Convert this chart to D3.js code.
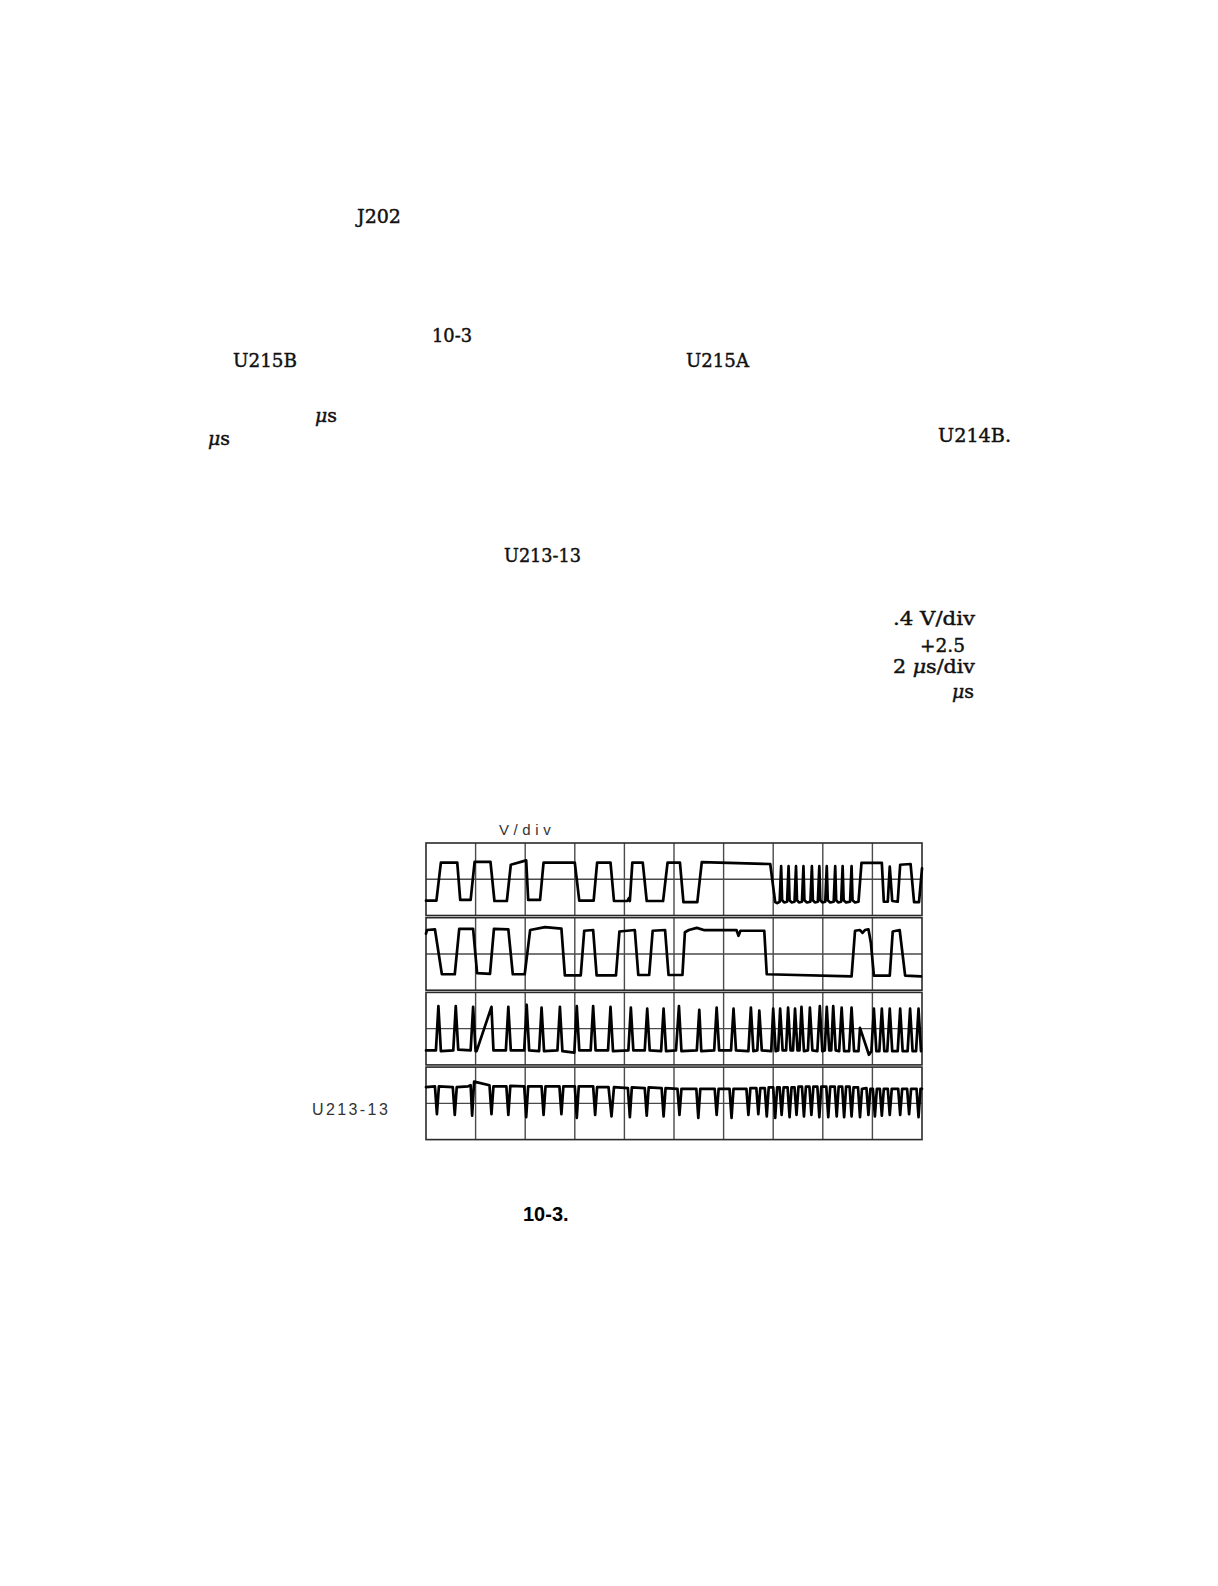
<!DOCTYPE html>
<html><head><meta charset="utf-8">
<script src="https://cdn.jsdelivr.net/npm/d3@7"></script>
<style>html,body{margin:0;padding:0;background:#fff;} svg{display:block}</style>
</head><body>
<svg id="c" width="1218" height="1586"></svg>
<script>
// ---- DATA (time in divisions 0..10, level in divisions relative to channel centre) ----
const channels = ["CH1", "CH2", "CH3", "U213-13"];
const timeDomain = [0, 10];
const levelDomain = [-1, 1];

const trace1 = [
  [0.00,-0.59],[0.21,-0.59],[0.30,0.46],[0.63,0.46],[0.69,-0.57],[0.90,-0.57],[0.98,0.48],[1.30,0.48],
  [1.38,-0.60],[1.63,-0.60],[1.71,0.40],[2.02,0.52],[2.06,-0.57],[2.30,-0.57],[2.37,0.46],[3.00,0.46],
  [3.09,-0.59],[3.38,-0.59],[3.45,0.46],[3.72,0.46],[3.79,-0.60],[4.06,-0.60],[4.09,-0.52],[4.11,-0.60],
  [4.16,0.46],[4.37,0.46],[4.45,-0.60],[4.78,-0.60],[4.87,0.46],[5.12,0.46],[5.19,-0.63],[5.47,-0.63],
  [5.56,0.47],[6.94,0.42],[7.04,-0.63],[7.08,-0.66],[7.13,-0.62],[7.16,0.36],[7.18,-0.58],[7.22,-0.64],
  [7.28,-0.62],[7.31,0.36],[7.33,-0.58],[7.37,-0.64],[7.43,-0.62],[7.46,0.36],[7.48,-0.58],[7.52,-0.64],
  [7.58,-0.62],[7.61,0.36],[7.63,-0.58],[7.68,-0.64],[7.75,-0.62],[7.78,0.36],[7.80,-0.58],[7.84,-0.64],
  [7.90,-0.62],[7.93,0.36],[7.95,-0.58],[7.99,-0.64],[8.05,-0.62],[8.08,0.36],[8.10,-0.58],[8.15,-0.64],
  [8.22,-0.62],[8.25,0.36],[8.27,-0.58],[8.31,-0.64],[8.37,-0.62],[8.40,0.36],[8.42,-0.58],[8.47,-0.64],
  [8.55,-0.62],[8.58,0.36],[8.60,-0.58],[8.65,-0.64],[8.72,-0.62],[8.78,0.45],[9.19,0.45],[9.23,-0.62],
  [9.31,-0.62],[9.35,0.35],[9.40,-0.60],[9.51,-0.62],[9.56,0.40],[9.77,0.42],[9.84,-0.63],[9.94,-0.63],[10.0,0.30]
];

const trace2 = [
  [0.00,0.56],[0.02,0.66],[0.18,0.68],[0.32,-0.56],[0.58,-0.56],[0.67,0.69],[0.95,0.69],[1.03,-0.53],
  [1.29,-0.55],[1.37,0.69],[1.66,0.68],[1.75,-0.56],[1.99,-0.56],[2.10,0.66],[2.40,0.74],[2.73,0.70],
  [2.80,-0.59],[3.12,-0.59],[3.19,0.64],[3.37,0.66],[3.44,-0.59],[3.83,-0.59],[3.90,0.62],[4.21,0.66],
  [4.28,-0.58],[4.50,-0.58],[4.57,0.64],[4.82,0.66],[4.89,-0.58],[5.17,-0.58],[5.22,0.60],[5.30,0.66],
  [5.46,0.72],[5.60,0.66],[6.26,0.66],[6.30,0.50],[6.34,0.64],[6.82,0.64],[6.87,-0.56],[8.58,-0.62],
  [8.65,0.64],[8.75,0.66],[8.80,0.58],[8.85,0.66],[8.92,0.68],[8.97,0.30],[9.03,-0.60],[9.35,-0.60],
  [9.41,0.62],[9.55,0.66],[9.66,-0.60],[9.98,-0.62]
];

const trace3 = [
  [0.00,-0.60],[0.20,-0.60],[0.25,0.62],[0.30,-0.62],[0.55,-0.60],[0.60,0.62],[0.65,-0.58],[0.90,-0.60],
  [0.95,0.60],[1.00,-0.62],[1.02,-0.62],[1.32,0.60],[1.36,-0.60],[1.61,-0.60],[1.66,0.60],[1.71,-0.60],
  [1.98,-0.60],[2.03,0.66],[2.08,-0.60],[2.28,-0.62],[2.33,0.58],[2.38,-0.62],[2.65,-0.60],[2.70,0.60],
  [2.75,-0.62],[2.99,-0.66],[3.04,0.62],[3.09,-0.60],[3.32,-0.60],[3.37,0.62],[3.42,-0.60],[3.67,-0.60],
  [3.72,0.60],[3.77,-0.62],[4.08,-0.60],[4.13,0.58],[4.18,-0.60],[4.41,-0.60],[4.46,0.55],[4.51,-0.60],
  [4.74,-0.62],[4.79,0.55],[4.84,-0.62],[5.04,-0.60],[5.10,0.62],[5.15,-0.62],[5.46,-0.60],[5.51,0.52],
  [5.55,-0.62],[5.81,-0.60],[5.86,0.58],[5.91,-0.60],[6.15,-0.60],[6.20,0.55],[6.25,-0.60],[6.50,-0.62],
  [6.55,0.58],[6.60,-0.62],[6.68,-0.60],[6.72,0.50],[6.77,-0.60],[6.96,-0.62],[7.00,0.55],[7.05,-0.62],
  [7.10,-0.60],[7.14,0.55],[7.19,-0.60],[7.26,-0.60],[7.30,0.58],[7.35,-0.60],[7.40,-0.60],[7.44,0.55],
  [7.49,-0.60],[7.53,-0.60],[7.57,0.60],[7.62,-0.62],[7.70,-0.60],[7.74,0.58],[7.79,-0.60],[7.89,-0.62],
  [7.94,0.62],[7.99,-0.62],[8.04,-0.60],[8.08,0.60],[8.13,-0.60],[8.17,-0.60],[8.21,0.62],[8.26,-0.60],
  [8.33,-0.62],[8.38,0.58],[8.43,-0.62],[8.53,-0.62],[8.58,0.58],[8.63,-0.62],[8.72,-0.62],[8.75,0.02],
  [8.93,-0.72],[8.98,-0.62],[9.03,0.55],[9.08,-0.62],[9.14,-0.62],[9.19,0.55],[9.24,-0.62],[9.30,-0.62],
  [9.35,0.55],[9.40,-0.62],[9.51,-0.62],[9.56,0.55],[9.61,-0.62],[9.71,-0.62],[9.76,0.55],[9.81,-0.62],
  [9.88,-0.62],[9.93,0.55],[9.98,-0.62]
];

const trace4 = [
  [0.00,0.45],[0.18,0.47],[0.22,-0.30],[0.26,0.47],[0.54,0.45],[0.58,-0.32],[0.62,0.45],[0.85,0.47],
  [0.90,0.50],[0.93,-0.34],[0.97,0.60],[1.28,0.50],[1.32,-0.30],[1.36,0.47],[1.62,0.47],[1.66,-0.32],
  [1.70,0.48],[1.98,0.47],[2.02,-0.38],[2.06,0.47],[2.33,0.47],[2.37,-0.32],[2.41,0.47],[2.69,0.47],
  [2.73,-0.30],[2.77,0.47],[3.00,0.47],[3.04,-0.40],[3.08,0.47],[3.37,0.47],[3.41,-0.32],[3.45,0.45],
  [3.68,0.45],[3.74,-0.36],[3.79,0.45],[4.07,0.42],[4.11,-0.38],[4.15,0.44],[4.41,0.42],[4.45,-0.34],
  [4.49,0.44],[4.75,0.42],[4.79,-0.36],[4.83,0.42],[5.07,0.40],[5.11,-0.32],[5.15,0.40],[5.45,0.40],
  [5.49,-0.40],[5.53,0.40],[5.82,0.40],[5.86,-0.32],[5.90,0.40],[6.12,0.40],[6.16,-0.40],[6.20,0.40],
  [6.46,0.40],[6.50,-0.32],[6.54,0.42],[6.66,0.42],[6.70,-0.30],[6.74,0.42],[6.83,0.42],[6.87,-0.36],
  [6.91,0.44],[7.00,0.44],[7.04,-0.40],[7.08,0.44],[7.13,0.44],[7.17,-0.32],[7.21,0.44],[7.29,0.44],
  [7.33,-0.38],[7.37,0.44],[7.43,0.44],[7.47,-0.32],[7.51,0.46],[7.58,0.46],[7.62,-0.36],[7.66,0.46],
  [7.73,0.46],[7.77,-0.32],[7.81,0.46],[7.89,0.46],[7.93,-0.38],[7.97,0.46],[8.07,0.46],[8.11,-0.38],
  [8.15,0.46],[8.24,0.46],[8.28,-0.36],[8.32,0.46],[8.39,0.46],[8.43,-0.38],[8.47,0.46],[8.54,0.46],
  [8.58,-0.36],[8.62,0.44],[8.71,0.44],[8.75,-0.38],[8.79,0.40],[8.88,0.42],[8.92,-0.32],[8.96,0.40],
  [9.01,0.40],[9.05,-0.36],[9.09,0.40],[9.15,0.40],[9.19,-0.34],[9.23,0.40],[9.31,0.40],[9.35,-0.32],
  [9.39,0.40],[9.52,0.40],[9.56,-0.32],[9.60,0.40],[9.70,0.40],[9.74,-0.30],[9.78,0.40],[9.89,0.40],
  [9.93,-0.38],[9.97,0.40],[10.0,0.40]
];

const scaleLabel = "V/div";
const channelLabel = "U213-13";
const figureLabel = "10-3.";
const pageTexts = ["J202", "10-3", "U215B", "U215A", "\u03bcs", "\u03bcs", "U214B.", "U213-13",
                   ".4 V/div", "+2.5", "2 \u03bcs/div", "\u03bcs"];

// ---- LAYOUT ----
const svg = d3.select("#c");
svg.append("rect").attr("width", 1218).attr("height", 1586).attr("fill", "#fff");

const pageLayout = [
  [357, 223, 44], [432, 342, 40], [233, 367, 64], [686, 367, 63], [315, 422, 22], [208, 445, 22],
  [938, 442, 73], [504, 562, 77], [893, 625, 82], [920, 652, 45], [893, 673, 82], [952, 698, 22]
];
const pt = svg.append("g").selectAll("text").data(pageTexts).join("text")
  .attr("x", (d, i) => pageLayout[i][0])
  .attr("y", (d, i) => pageLayout[i][1])
  .attr("textLength", (d, i) => pageLayout[i][2])
  .attr("lengthAdjust", "spacingAndGlyphs")
  .attr("font-family", "'DejaVu Serif', serif")
  .attr("font-size", 19)
  .attr("fill", "#111").attr("stroke", "#111").attr("stroke-width", 0.45);
pt.each(function(d) {
  const t = d3.select(this);
  d.split(/(\u03bc)/).filter(s => s.length).forEach(s => {
    const ts = t.append("tspan").text(s);
    if (s === "\u03bc") ts.attr("font-style", "italic");
  });
});

const x = d3.scaleLinear().domain(timeDomain).range([426, 922]);
const panelTop = i => 843 + i * 74.7;
const panelH = 72.5;
const traces = [trace1, trace2, trace3, trace4];

traces.forEach((data, i) => {
  const y = d3.scaleLinear().domain(levelDomain).range([panelTop(i) + panelH, panelTop(i)]);
  const g = svg.append("g").attr("class", "panel");
  g.selectAll("line.v").data(x.ticks(10).slice(1, -1)).join("line")
    .attr("class", "v")
    .attr("x1", d => x(d)).attr("x2", d => x(d))
    .attr("y1", y(levelDomain[0])).attr("y2", y(levelDomain[1]))
    .attr("stroke", "#4a4a4a").attr("stroke-width", 1.4);
  g.append("line")
    .attr("x1", x(timeDomain[0])).attr("x2", x(timeDomain[1]))
    .attr("y1", y(0)).attr("y2", y(0))
    .attr("stroke", "#4a4a4a").attr("stroke-width", 1.4);
  g.append("rect")
    .attr("x", x(timeDomain[0])).attr("y", y(levelDomain[1]))
    .attr("width", x(timeDomain[1]) - x(timeDomain[0]))
    .attr("height", y(levelDomain[0]) - y(levelDomain[1]))
    .attr("fill", "none").attr("stroke", "#2a2a2a").attr("stroke-width", 1.6);
  const line = d3.line().x(d => x(d[0])).y(d => y(d[1]));
  g.append("path").datum(data).attr("d", line)
    .attr("fill", "none").attr("stroke", "#000").attr("stroke-width", 2.7)
    .attr("stroke-linejoin", "round").attr("stroke-linecap", "round");
});

svg.append("text").attr("x", 499).attr("y", 835)
  .attr("font-family", "'Liberation Sans', Arial, sans-serif").attr("font-size", 15)
  .attr("letter-spacing", 4.6).attr("fill", "#333").text(scaleLabel);

svg.append("text").attr("x", 312).attr("y", 1115)
  .attr("font-family", "'Liberation Sans', Arial, sans-serif").attr("font-size", 16)
  .attr("letter-spacing", 2.4).attr("fill", "#333").text(channelLabel);

svg.append("text").attr("x", 523).attr("y", 1221)
  .attr("font-family", "'Liberation Sans', Arial, sans-serif").attr("font-size", 20)
  .attr("font-weight", "bold").attr("fill", "#000").text(figureLabel);
</script>
</body></html>
